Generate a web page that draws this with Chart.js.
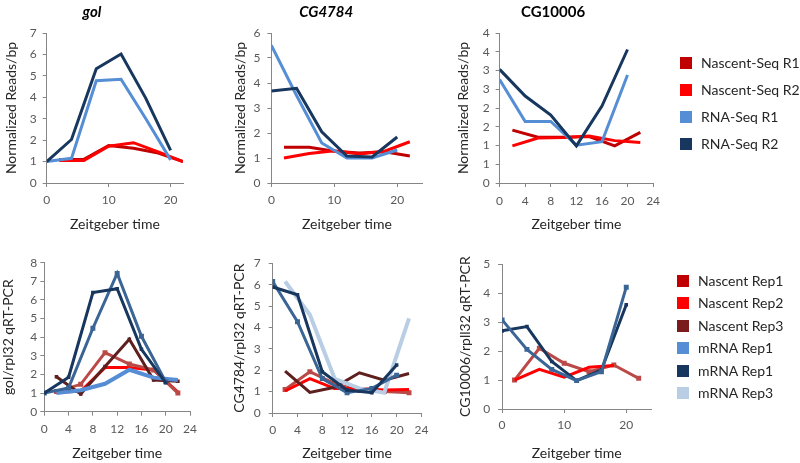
<!DOCTYPE html>
<html>
<head>
<meta charset="utf-8">
<script src="https://cdn.jsdelivr.net/npm/chart.js@4.4.1/dist/chart.umd.min.js"></script>
<style>
  html, body { margin: 0; padding: 0; background: #fff; }
  body { width: 800px; height: 463px; position: relative; overflow: hidden; font-family: Lato, "Liberation Sans", sans-serif; }
  .panel { position: absolute; }
  .legend { position: absolute; font-size: 14px; color: #262626; }
  .legend .item { position: absolute; left: 0; white-space: nowrap; height: 14px; line-height: 14px; }
  .legend .swatch { position: absolute; left: 0; top: 1px; width: 12px; height: 12px; }
  .legend .label { position: absolute; left: 21px; top: 0; }
</style>
</head>
<body>
<div class="panel"><canvas id="golSeq"></canvas></div>
<div class="panel"><canvas id="cg4784Seq"></canvas></div>
<div class="panel"><canvas id="cg10006Seq"></canvas></div>
<div class="panel"><canvas id="golQpcr"></canvas></div>
<div class="panel"><canvas id="cg4784Qpcr"></canvas></div>
<div class="panel"><canvas id="cg10006Qpcr"></canvas></div>
<div class="legend" id="seqLegend"></div>
<div class="legend" id="qpcrLegend"></div>
<script>
// sampling times (Zeitgeber time)
const seqTimes = [0, 4, 8, 12, 16, 20];
const nascentTimes = [2, 6, 10, 14, 18, 22];
const cg10006RedTimes = [2, 6, 10, 14, 18];

// top row: normalized reads/bp
const golNascentSeqR1 = [1.1, 1.1, 1.75, 1.62, 1.4, 1.0];
const golNascentSeqR2 = [1.05, 1.05, 1.72, 1.88, 1.45, 1.0];
const golRnaSeqR1 = [1.0, 1.15, 4.77, 4.84, 3.0, 1.08];
const golRnaSeqR2 = [1.0, 2.03, 5.33, 6.02, 3.95, 1.52];

const cg4784NascentSeqR1 = [1.43, 1.43, 1.27, 1.2, 1.25, 1.08];
const cg4784NascentSeqR2 = [1.0, 1.18, 1.29, 1.16, 1.27, 1.65];
const cg4784RnaSeqR1 = [5.5, 3.5, 1.6, 1.0, 1.0, 1.32];
const cg4784RnaSeqR2 = [3.68, 3.79, 2.05, 1.08, 1.04, 1.84];

const cg10006NascentSeqR1 = [1.41, 1.22, 1.22, 1.24, 0.99, 1.35];
const cg10006NascentSeqR2 = [0.99, 1.2, 1.21, 1.25, 1.13, 1.08];
const cg10006RnaSeqR1 = [2.76, 1.64, 1.64, 1.01, 1.1, 2.88];
const cg10006RnaSeqR2 = [3.03, 2.32, 1.81, 0.99, 2.05, 3.56];
const cg10006SeqYLabels = ['0', '1', '1', '2', '2', '3', '3', '4', '4'];

// bottom row: qRT-PCR relative to rpl32
const golQpcrMrnaDark = [1.0, 1.85, 6.4, 6.6, 3.35, 1.55];
const golQpcrMrnaMid = [1.0, 1.28, 4.48, 7.42, 4.05, 1.6];
const golQpcrMrnaLight = [1.0, 1.15, 1.5, 2.25, 1.83, 1.7];
const golQpcrNascentRed = [1.05, 1.1, 2.37, 2.37, 2.24, 1.05];
const golQpcrNascentBrown = [1.08, 1.47, 3.17, 2.56, 2.24, 1.0];
const golQpcrNascentDark = [1.88, 0.95, 2.43, 3.89, 1.7, 1.63];

const cg4784QpcrMrnaDark = [5.89, 5.53, 1.93, 1.07, 0.95, 2.24];
const cg4784QpcrMrnaMid = [6.15, 4.27, 1.61, 0.95, 1.15, 1.77];
const cg4784QpcrMrnaPale = [6.15, 4.59, 1.6, 1.15, 0.95, 4.43];
const cg4784QpcrNascentRed = [1.03, 1.61, 1.14, 1.14, 1.07, 1.1];
const cg4784QpcrNascentBrown = [1.1, 1.93, 1.37, 1.05, 1.0, 0.95];
const cg4784QpcrNascentDark = [1.96, 0.96, 1.2, 1.88, 1.53, 1.85];

const cg10006QpcrMrnaDark = [2.7, 2.85, 1.64, 0.98, 1.35, 3.6];
const cg10006QpcrMrnaMid = [3.08, 2.06, 1.37, 0.98, 1.29, 4.21];
const cg10006QpcrNascentRed = [1.0, 1.37, 1.1, 1.44, 1.5];
const cg10006QpcrNascentBrown = [1.0, 2.1, 1.58, 1.29, 1.52, 1.06];

// legends
const seqLegendLabels = ['Nascent-Seq R1', 'Nascent-Seq R2', 'RNA-Seq R1', 'RNA-Seq R2'];
const seqLegendColors = ['#C00000', '#FF0000', '#558ED5', '#17375E'];
const qpcrLegendLabels = ['Nascent Rep1', 'Nascent Rep2', 'Nascent Rep3', 'mRNA Rep1', 'mRNA Rep1', 'mRNA Rep3'];
const qpcrLegendColors = ['#C00000', '#FF0000', '#7B1C1C', '#558ED5', '#17375E', '#B9CDE5'];

// colours used by the lines
const DARK_RED = '#C00000', RED = '#FF0000', BROWN = '#BA4A47', MAROON = '#5E1F1F';
const NAVY = '#17375E', STEEL = '#3A6595', LIGHT = '#558ED5', PALE = '#B9CDE5';

const GRID = '#868686';
const TICK = '#595959';
const TEXT = '#262626';

Chart.defaults.font.family = 'Lato, "Liberation Sans", sans-serif';
Chart.defaults.color = TICK;

function line(label, times, values, color, width, marker) {
  return {
    label,
    data: times.map((t, i) => ({ x: t, y: values[i] })),
    borderColor: color,
    backgroundColor: color,
    borderWidth: width || 3,
    pointRadius: marker || 0,
    pointStyle: 'rect',
    pointBorderWidth: 0,
    tension: 0,
    fill: false
  };
}

function axis(o) {
  const a = {
    type: 'linear',
    min: 0,
    max: o.max,
    ticks: { stepSize: o.step, includeBounds: false, padding: o.pad, color: TICK, font: { size: 12 }, autoSkip: false, maxRotation: 0 },
    grid: { drawOnChartArea: false, drawTicks: true, tickLength: 4, color: GRID },
    border: { display: true, color: GRID },
    title: { display: true, text: o.title, color: TEXT, font: { size: 14 }, padding: o.titlePad },
    afterFit: o.fit
  };
  if (o.labels) a.ticks.callback = (v, i) => o.labels[i];
  return a;
}

function panel(id, g, cfg) {
  const canvas = document.getElementById(id);
  const holder = canvas.parentNode;
  holder.style.left = g.left + 'px';
  holder.style.top = g.top + 'px';
  holder.style.width = (g.right - g.left) + 'px';
  holder.style.height = (g.bottom - g.top) + 'px';
  const [l, t, r, b] = g.area;

  const scales = {
    x: axis({ max: cfg.xMax, step: cfg.xStep, pad: g.xTickPad, title: 'Zeitgeber time',
      titlePad: { top: 0, bottom: g.xTitlePad }, fit: s => { s.height = g.bottom - b; } }),
    y: axis({ max: cfg.yMax, step: cfg.yStep, pad: g.yTickPad, title: cfg.yTitle, labels: cfg.yLabels,
      titlePad: { top: g.yTitlePad, bottom: 0 }, fit: s => { s.width = l - g.left; } })
  };

  const plugins = { legend: { display: false }, tooltip: { enabled: false } };
  let padTop = t - g.top;
  if (cfg.title) {
    // the title is centred on the whole canvas, so the canvas is sized around it
    plugins.title = {
      display: true, text: cfg.title, fullSize: true, color: '#000',
      font: { size: 15, weight: 'bold', style: cfg.italic ? 'italic' : 'normal' },
      padding: { top: 3, bottom: padTop - 3 - 18 }
    };
    padTop = 0;
  }

  new Chart(canvas, {
    type: 'line',
    data: { datasets: cfg.datasets },
    options: {
      responsive: true,
      maintainAspectRatio: false,
      animation: false,
      layout: { padding: { left: 0, top: padTop, right: g.right - r, bottom: 0 } },
      scales,
      plugins
    }
  });
}

function legend(id, pos, labels, colors) {
  const box = document.getElementById(id);
  box.style.left = pos.left + 'px';
  box.style.top = pos.top + 'px';
  labels.forEach((text, i) => {
    const item = document.createElement('div');
    item.className = 'item';
    item.style.top = (i * pos.step) + 'px';
    item.innerHTML = '<span class="swatch" style="background:' + colors[i] + '"></span><span class="label"></span>';
    item.querySelector('.label').textContent = text;
    box.appendChild(item);
  });
}

// ---- top row ----
panel('golSeq',
  { left: 1, top: 0, right: 214, bottom: 235, area: [46.7, 33, 183, 183], xTickPad: 6, yTickPad: 6, xTitlePad: 2, yTitlePad: 2 },
  { title: 'gol', italic: true, yTitle: 'Normalized Reads/bp', xMax: 22, xStep: 10, yMax: 7, yStep: 1,
    datasets: [
      line('RNA-Seq R2', seqTimes, golRnaSeqR2, NAVY),
      line('RNA-Seq R1', seqTimes, golRnaSeqR1, LIGHT),
      line('Nascent-Seq R2', nascentTimes, golNascentSeqR2, RED),
      line('Nascent-Seq R1', nascentTimes, golNascentSeqR1, DARK_RED)
    ] });

panel('cg4784Seq',
  { left: 229.6, top: 0, right: 453.8, bottom: 235, area: [271, 33, 422, 183], xTickPad: 6, yTickPad: 7, xTitlePad: 2, yTitlePad: 2 },
  { title: 'CG4784', italic: true, yTitle: 'Normalized Reads/bp', xMax: 24, xStep: 10, yMax: 6, yStep: 1,
    datasets: [
      line('RNA-Seq R2', seqTimes, cg4784RnaSeqR2, NAVY),
      line('RNA-Seq R1', seqTimes, cg4784RnaSeqR1, LIGHT),
      line('Nascent-Seq R2', nascentTimes, cg4784NascentSeqR2, RED),
      line('Nascent-Seq R1', nascentTimes, cg4784NascentSeqR1, DARK_RED)
    ] });

panel('cg10006Seq',
  { left: 452.9, top: 0, right: 685.1, bottom: 235, area: [499.5, 33, 653, 183], xTickPad: 7, yTickPad: 6, xTitlePad: 2, yTitlePad: 2 },
  { title: 'CG10006', italic: false, yTitle: 'Normalized Reads/bp', xMax: 24, xStep: 4, yMax: 4, yStep: 0.5, yLabels: cg10006SeqYLabels,
    datasets: [
      line('RNA-Seq R2', seqTimes, cg10006RnaSeqR2, NAVY),
      line('RNA-Seq R1', seqTimes, cg10006RnaSeqR1, LIGHT),
      line('Nascent-Seq R2', nascentTimes, cg10006NascentSeqR2, RED),
      line('Nascent-Seq R1', nascentTimes, cg10006NascentSeqR1, DARK_RED)
    ] });

// ---- bottom row ----
panel('golQpcr',
  { left: 0, top: 240, right: 203, bottom: 463, area: [44.3, 262.7, 192.7, 411.7], xTickPad: 6, yTickPad: 3, xTitlePad: 1.5, yTitlePad: 0 },
  { yTitle: 'gol/rpl32 qRT-PCR', xMax: 24, xStep: 4, yMax: 8, yStep: 1,
    datasets: [
      line('mRNA dark', seqTimes, golQpcrMrnaDark, NAVY, 3, 2.5),
      line('mRNA mid', seqTimes, golQpcrMrnaMid, STEEL, 3, 3.5),
      line('mRNA light', nascentTimes, golQpcrMrnaLight, LIGHT, 4),
      line('Nascent dark', nascentTimes, golQpcrNascentDark, MAROON, 3, 2.5),
      line('Nascent brown', nascentTimes, golQpcrNascentBrown, BROWN, 3, 3.5),
      line('Nascent red', nascentTimes, golQpcrNascentRed, RED, 3)
    ] });

panel('cg4784Qpcr',
  { left: 228.6, top: 240, right: 434, bottom: 463, area: [272.3, 263.3, 423.3, 413], xTickPad: 6, yTickPad: 8, xTitlePad: 1.5, yTitlePad: 2 },
  { yTitle: 'CG4784/rpl32 qRT-PCR', xMax: 24, xStep: 4, yMax: 7, yStep: 1,
    datasets: [
      line('mRNA dark', seqTimes, cg4784QpcrMrnaDark, NAVY, 3, 2.5),
      line('mRNA mid', seqTimes, cg4784QpcrMrnaMid, STEEL, 3, 3.5),
      line('mRNA pale', nascentTimes, cg4784QpcrMrnaPale, PALE, 4),
      line('Nascent dark', nascentTimes, cg4784QpcrNascentDark, MAROON, 3),
      line('Nascent red', nascentTimes, cg4784QpcrNascentRed, RED, 3),
      line('Nascent brown', nascentTimes, cg4784QpcrNascentBrown, BROWN, 3, 3.5)
    ] });

panel('cg10006Qpcr',
  { left: 454.6, top: 240, right: 661, bottom: 463, area: [501.7, 264.3, 650.7, 409], xTickPad: 5, yTickPad: 8, xTitlePad: 1.5, yTitlePad: 2 },
  { yTitle: 'CG10006/rpll32 qRT-PCR', xMax: 24, xStep: 10, yMax: 5, yStep: 1,
    datasets: [
      line('mRNA mid', seqTimes, cg10006QpcrMrnaMid, STEEL, 3, 3.5),
      line('mRNA dark', seqTimes, cg10006QpcrMrnaDark, NAVY, 3, 2.5),
      line('Nascent red', cg10006RedTimes, cg10006QpcrNascentRed, RED, 3),
      line('Nascent brown', nascentTimes, cg10006QpcrNascentBrown, BROWN, 3, 3.5)
    ] });

legend('seqLegend', { left: 680, top: 56, step: 27.1 }, seqLegendLabels, seqLegendColors);
legend('qpcrLegend', { left: 677, top: 274, step: 22.4 }, qpcrLegendLabels, qpcrLegendColors);
</script>
</body>
</html>
